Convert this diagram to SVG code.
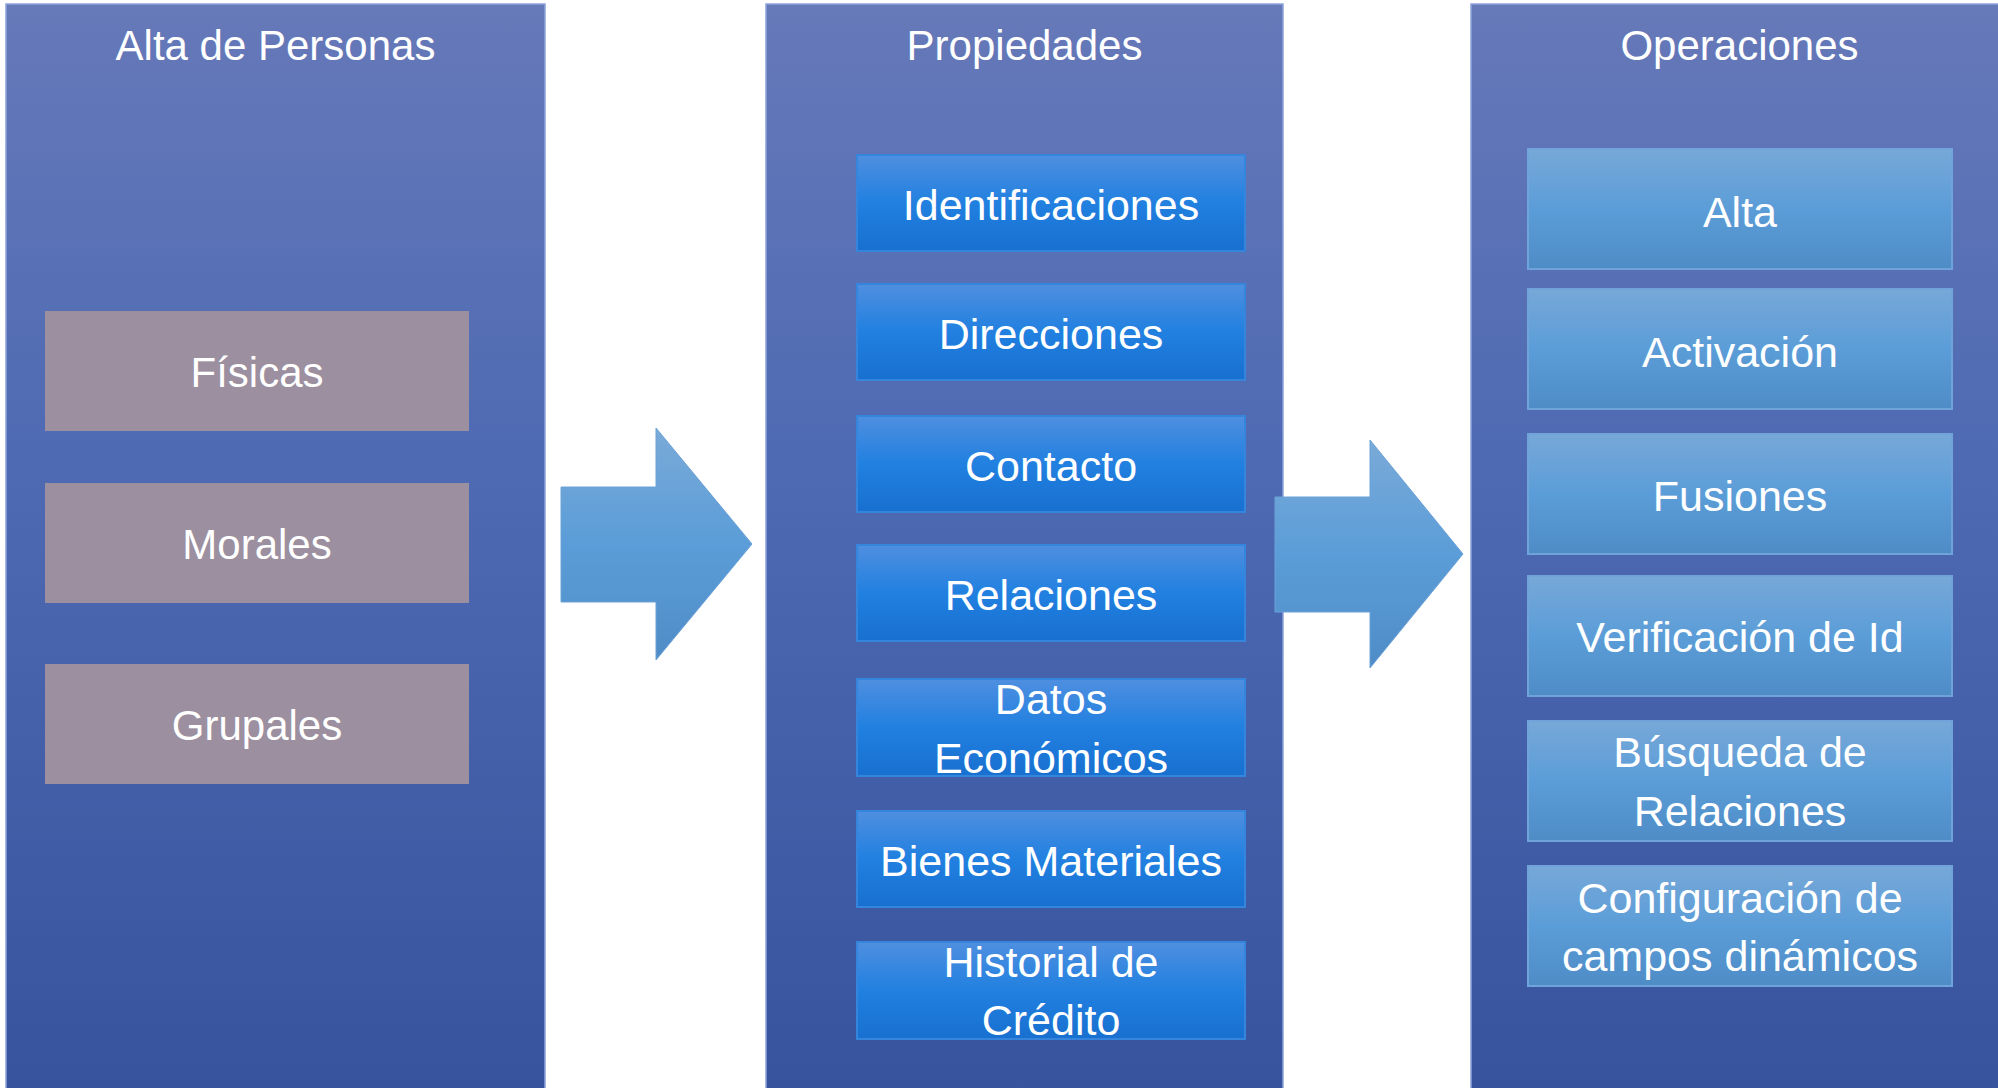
<svg xmlns="http://www.w3.org/2000/svg" width="1998" height="1088" viewBox="0 0 1998 1088">
<defs>
<linearGradient id="gPanel" x1="0" y1="0" x2="0" y2="1">
<stop offset="0" stop-color="#6679b9"/>
<stop offset="0.45" stop-color="#4c69b2"/>
<stop offset="1" stop-color="#37539d"/>
</linearGradient>
<linearGradient id="gMid" x1="0" y1="0" x2="0" y2="1">
<stop offset="0" stop-color="#4f8fe0"/>
<stop offset="0.5" stop-color="#2180e0"/>
<stop offset="1" stop-color="#1870d0"/>
</linearGradient>
<linearGradient id="gRight" x1="0" y1="0" x2="0" y2="1">
<stop offset="0" stop-color="#77a8d8"/>
<stop offset="0.5" stop-color="#5b9dd8"/>
<stop offset="1" stop-color="#4e8cc6"/>
</linearGradient>
<linearGradient id="gArrow" x1="0" y1="0" x2="0" y2="1">
<stop offset="0" stop-color="#7aaad8"/>
<stop offset="0.5" stop-color="#5b9dd8"/>
<stop offset="1" stop-color="#4f8cc7"/>
</linearGradient>
<style>
.panel{fill:url(#gPanel);stroke:#8ea3da;stroke-width:1.5}
.grey{fill:#9c8fa0}
.mid{fill:url(#gMid);stroke:#3585dc;stroke-width:2}
.right{fill:url(#gRight);stroke:#6fa3da;stroke-width:2}
.arrow{fill:url(#gArrow);stroke:#6ba2d8;stroke-width:1}
text{font-family:"Liberation Sans",Arial,sans-serif;font-size:42px;fill:#ffffff;text-anchor:middle}
.t43{font-size:43px}
</style>
</defs>
<rect width="1998" height="1088" fill="#ffffff"/>

<g id="panel-alta">
<rect class="panel" x="6" y="4" width="539" height="1090"/>
<text x="275.5" y="60">Alta de Personas</text>
</g>
<g id="node-fisicas">
<rect class="grey" x="45" y="311" width="424" height="120"/>
<text x="257" y="387">Físicas</text>
</g>
<g id="node-morales">
<rect class="grey" x="45" y="483" width="424" height="120"/>
<text x="257" y="559">Morales</text>
</g>
<g id="node-grupales">
<rect class="grey" x="45" y="664" width="424" height="120"/>
<text x="257" y="740">Grupales</text>
</g>

<g id="panel-propiedades">
<rect class="panel" x="766" y="4" width="517" height="1090"/>
<text x="1024.5" y="60">Propiedades</text>
</g>
<g id="node-identificaciones">
<rect class="mid" x="857" y="155" width="388" height="96"/>
<text class="t43" x="1051" y="220">Identificaciones</text>
</g>
<g id="node-direcciones">
<rect class="mid" x="857" y="284" width="388" height="96"/>
<text class="t43" x="1051" y="349">Direcciones</text>
</g>
<g id="node-contacto">
<rect class="mid" x="857" y="416" width="388" height="96"/>
<text class="t43" x="1051" y="481">Contacto</text>
</g>
<g id="node-relaciones">
<rect class="mid" x="857" y="545" width="388" height="96"/>
<text class="t43" x="1051" y="610">Relaciones</text>
</g>
<g id="node-datos">
<rect class="mid" x="857" y="679" width="388" height="97"/>
<text class="t43" x="1051" y="714">Datos</text>
<text class="t43" x="1051" y="773">Económicos</text>
</g>
<g id="node-bienes">
<rect class="mid" x="857" y="811" width="388" height="96"/>
<text class="t43" x="1051" y="876">Bienes Materiales</text>
</g>
<g id="node-historial">
<rect class="mid" x="857" y="942" width="388" height="97"/>
<text class="t43" x="1051" y="977">Historial de</text>
<text class="t43" x="1051" y="1035">Crédito</text>
</g>

<g id="panel-operaciones">
<rect class="panel" x="1471" y="4" width="540" height="1090"/>
<text x="1739.5" y="60">Operaciones</text>
</g>
<g id="node-alta">
<rect class="right" x="1528" y="149" width="424" height="120"/>
<text class="t43" x="1740" y="227">Alta</text>
</g>
<g id="node-activacion">
<rect class="right" x="1528" y="289" width="424" height="120"/>
<text class="t43" x="1740" y="367">Activación</text>
</g>
<g id="node-fusiones">
<rect class="right" x="1528" y="434" width="424" height="120"/>
<text class="t43" x="1740" y="511">Fusiones</text>
</g>
<g id="node-verificacion">
<rect class="right" x="1528" y="576" width="424" height="120"/>
<text class="t43" x="1740" y="652">Verificación de Id</text>
</g>
<g id="node-busqueda">
<rect class="right" x="1528" y="721" width="424" height="120"/>
<text class="t43" x="1740" y="767">Búsqueda de</text>
<text class="t43" x="1740" y="826">Relaciones</text>
</g>
<g id="node-configuracion">
<rect class="right" x="1528" y="866" width="424" height="120"/>
<text class="t43" x="1740" y="913">Configuración de</text>
<text class="t43" x="1740" y="971">campos dinámicos</text>
</g>

<g id="connectors">
<polygon class="arrow" points="561,487 656,487 656,428 752,544 656,660 656,602 561,602"/>
<polygon class="arrow" points="1275,497 1370,497 1370,440 1463,554 1370,668 1370,612 1275,612"/>
</g>
</svg>
